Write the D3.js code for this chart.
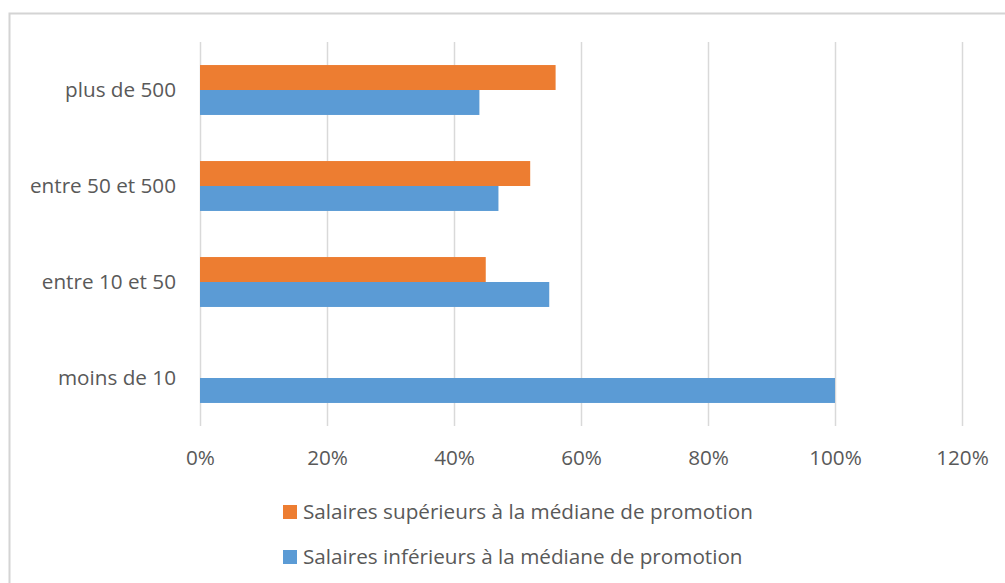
<!DOCTYPE html>
<html>
<head>
<meta charset="utf-8">
<script src="https://cdn.jsdelivr.net/npm/d3@7"></script>
<style>
    body { margin: 0; background: #fff; }
    text { font-family: "Open Sans", sans-serif; fill: #595959; }
</style>
</head>
<body>
<div id="chart"></div>
<script>
// categories, top to bottom
const categories = ["plus de 500", "entre 50 et 500", "entre 10 et 50", "moins de 10"];
const seriesNames = ["Salaires supérieurs à la médiane de promotion", "Salaires inférieurs à la médiane de promotion"];
const superieurs = [0.56, 0.52, 0.45, 0];
const inferieurs = [0.44, 0.47, 0.55, 1.00];
const ticks = [0, 0.2, 0.4, 0.6, 0.8, 1.0, 1.2];
const colors = ["#ED7D31", "#5B9BD5"];

let W = 1005,
    H = 583,
    LEFT = 200,
    RIGHT = 962,
    TOP = 42,
    BOTTOM = 426,
    FONT_SIZE = 20.7;

let svg = d3.select("#chart").append("svg")
    .attr("width", W)
    .attr("height", H);

// chart area border
svg.append("rect")
    .attr("x", 9.5).attr("y", 13.5)
    .attr("width", 1100).attr("height", 700)
    .attr("fill", "none")
    .attr("stroke", "#d4d4d4")
    .attr("stroke-width", 2);

let x = d3.scaleLinear().domain([0, 1.2]).range([LEFT, RIGHT]);
let y = d3.scaleBand().domain(categories).range([TOP, BOTTOM])
    .paddingInner(0.48).paddingOuter(0.24);
let inner = d3.scaleBand().domain([0, 1]).range([0, y.bandwidth()]);

// gridlines + tick labels via axis
let xAxis = svg.append("g")
    .attr("transform", `translate(0,${BOTTOM})`)
    .call(d3.axisBottom(x).tickValues(ticks).tickFormat(d3.format(".0%"))
        .tickSize(-(BOTTOM - TOP)).tickPadding(24));
xAxis.select(".domain").remove();
xAxis.selectAll("line").attr("stroke", "#d9d9d9").attr("stroke-width", 1.5);
xAxis.selectAll("text")
    .attr("font-size", FONT_SIZE)
    .attr("fill", "#595959")
    .style("font-family", "'Open Sans', sans-serif");

// category labels
let yAxis = svg.append("g")
    .attr("transform", `translate(${LEFT},0)`)
    .call(d3.axisLeft(y).tickSize(0).tickPadding(24));
yAxis.select(".domain").remove();
yAxis.selectAll("text")
    .attr("font-size", FONT_SIZE)
    .attr("fill", "#595959")
    .style("font-family", "'Open Sans', sans-serif");

// bars
let rows = categories.map((c, i) => ({ cat: c, vals: [superieurs[i], inferieurs[i]] }));
let group = svg.append("g").selectAll("g")
    .data(rows)
    .join("g")
    .attr("transform", d => `translate(0,${y(d.cat)})`);

group.selectAll("rect")
    .data(d => d.vals.map((v, k) => ({ v: v, k: k })))
    .join("rect")
    .attr("x", x(0))
    .attr("y", d => inner(d.k))
    .attr("width", d => x(d.v) - x(0))
    .attr("height", inner.bandwidth())
    .attr("fill", d => colors[d.k]);

// legend
let legend = svg.append("g").selectAll("g")
    .data(seriesNames)
    .join("g")
    .attr("transform", (d, i) => `translate(283,${505 + i * 45})`);

legend.append("rect")
    .attr("width", 14).attr("height", 14)
    .attr("fill", (d, i) => colors[i]);

legend.append("text")
    .attr("x", 20).attr("y", 7)
    .attr("dy", "0.35em")
    .attr("font-size", FONT_SIZE)
    .text(d => d);
</script>
</body>
</html>
